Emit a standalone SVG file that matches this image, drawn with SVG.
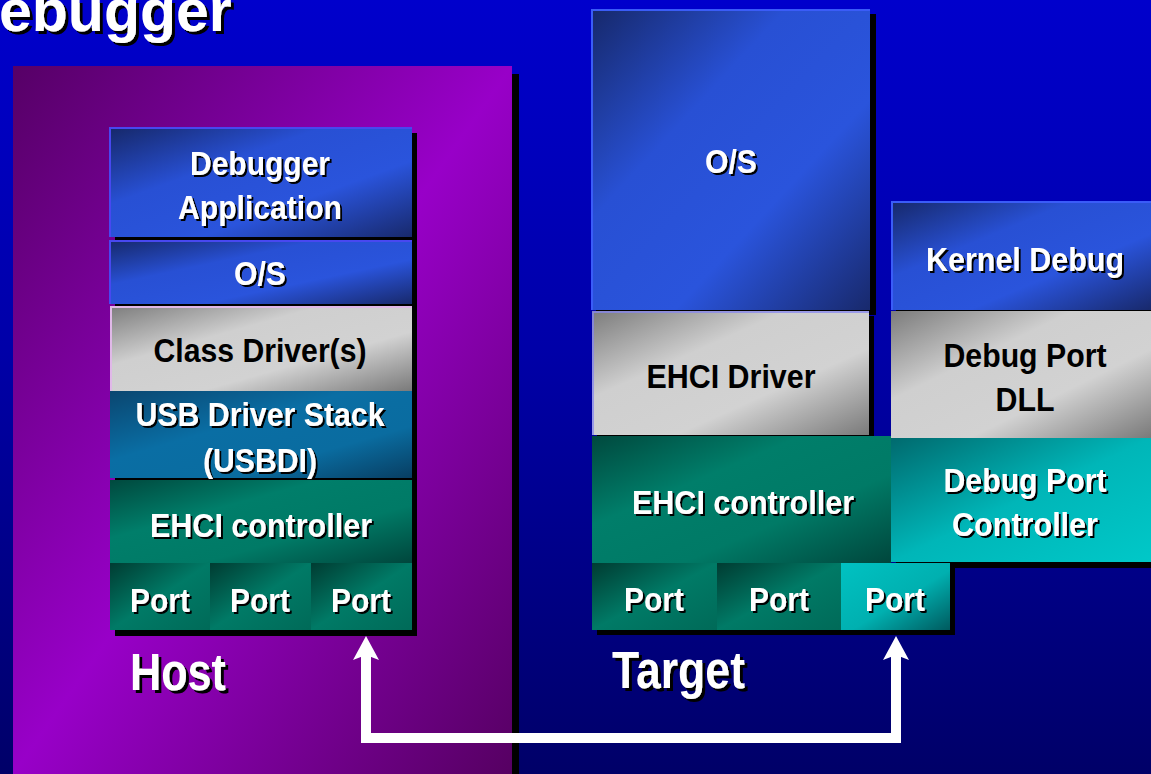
<svg xmlns="http://www.w3.org/2000/svg" width="1151" height="774" viewBox="0 0 1151 774">
<defs>
<linearGradient id="bg" x1="0" y1="0" x2="0" y2="1"><stop offset="0" stop-color="#0000cc"/><stop offset="0.45" stop-color="#0000a8"/><stop offset="1" stop-color="#000068"/></linearGradient>
<linearGradient id="purple" x1="0" y1="0" x2="1" y2="1"><stop offset="0" stop-color="#560066"/><stop offset="0.5" stop-color="#9800c8"/><stop offset="1" stop-color="#560062"/></linearGradient>
<linearGradient id="blue" x1="0" y1="0" x2="1" y2="1"><stop offset="0" stop-color="#16286a"/><stop offset="0.35" stop-color="#2850d4"/><stop offset="0.65" stop-color="#2a54dc"/><stop offset="1" stop-color="#18296c"/></linearGradient>
<linearGradient id="gray" x1="0" y1="0" x2="1" y2="1"><stop offset="0" stop-color="#7c7c7c"/><stop offset="0.35" stop-color="#cfcfcf"/><stop offset="0.65" stop-color="#d2d2d2"/><stop offset="1" stop-color="#7a7a7a"/></linearGradient>
<linearGradient id="usb" x1="0" y1="0" x2="1" y2="1"><stop offset="0" stop-color="#0a4670"/><stop offset="0.4" stop-color="#0a6ea4"/><stop offset="0.7" stop-color="#0a6ca0"/><stop offset="1" stop-color="#083e62"/></linearGradient>
<linearGradient id="green" x1="0" y1="0" x2="1" y2="1"><stop offset="0" stop-color="#00493e"/><stop offset="0.35" stop-color="#007e6a"/><stop offset="0.65" stop-color="#007a66"/><stop offset="1" stop-color="#00463c"/></linearGradient>
<linearGradient id="port" x1="0" y1="0" x2="1" y2="1"><stop offset="0" stop-color="#003c32"/><stop offset="0.5" stop-color="#007a66"/><stop offset="1" stop-color="#006a58"/></linearGradient>
<linearGradient id="cyan" x1="0" y1="0" x2="1" y2="1"><stop offset="0" stop-color="#006a6e"/><stop offset="0.5" stop-color="#00b6b8"/><stop offset="1" stop-color="#00c8c8"/></linearGradient>
<linearGradient id="cyanport" x1="0" y1="0" x2="1" y2="1"><stop offset="0" stop-color="#00c2c2"/><stop offset="0.55" stop-color="#00b0b0"/><stop offset="1" stop-color="#005a5e"/></linearGradient>
<filter id="ds" x="-10%" y="-20%" width="130%" height="150%"><feDropShadow dx="2" dy="2" stdDeviation="0.4" flood-color="#000" flood-opacity="1"/></filter>
<filter id="ds3" x="-10%" y="-20%" width="130%" height="150%"><feDropShadow dx="3" dy="3" stdDeviation="0.4" flood-color="#000" flood-opacity="1"/></filter>
<marker id="ah" viewBox="-24 -13 24 26" refX="-12" refY="0" markerWidth="24" markerHeight="26" markerUnits="userSpaceOnUse" orient="auto-start-reverse"><path d="M0,0 L-24,-13 L-19,0 L-24,13 Z" fill="#fff"/></marker>
<style>
text{font-family:"Liberation Sans",Arial,sans-serif;font-weight:bold;text-anchor:middle}
.w{fill:#fff;filter:url(#ds)}
.k{fill:#000}
.lbl{font-size:34px}
.big{font-size:51px;fill:#fff;filter:url(#ds3);text-anchor:start}
.sh{fill:#000}
</style>
</defs>
<rect x="0" y="0" width="1151" height="774" fill="url(#bg)"/>
<text x="-1" y="31" style="font-size:59px;text-anchor:start" fill="#fff" filter="url(#ds3)">ebugger</text>

<g id="host-panel">
<rect x="512" y="74" width="7" height="700" class="sh"/>
<rect x="13" y="66" width="499" height="708" fill="url(#purple)"/>
<text x="130" y="690" class="big" textLength="96" lengthAdjust="spacingAndGlyphs">Host</text>
</g>

<g id="host-shadow"><rect x="115" y="133" width="302" height="503" class="sh"/></g>

<g id="host-app"><rect x="110" y="128" width="302" height="109" fill="url(#blue)"/><path d="M110,237 V128 H412" fill="none" stroke="#4848f0" stroke-width="2"/><text class="w lbl" x="260" y="175" textLength="140" lengthAdjust="spacingAndGlyphs">Debugger</text><text class="w lbl" x="260" y="219" textLength="164" lengthAdjust="spacingAndGlyphs">Application</text></g>
<g id="host-os"><rect x="110" y="240" width="302" height="64" fill="url(#blue)"/><path d="M110,304 V241 H412" fill="none" stroke="#4848f0" stroke-width="2"/><text class="w lbl" x="260" y="285" textLength="52" lengthAdjust="spacingAndGlyphs">O/S</text></g>
<g id="host-class"><rect x="110" y="306" width="302" height="85" fill="url(#gray)"/><path d="M111,391 V307 H412" fill="none" stroke="#e0b8e8" stroke-width="2"/><text class="k lbl" x="260" y="362" textLength="213" lengthAdjust="spacingAndGlyphs">Class Driver(s)</text></g>
<g id="host-usb"><rect x="110" y="391" width="302" height="87" fill="url(#usb)"/><text class="w lbl" x="260" y="426" textLength="249" lengthAdjust="spacingAndGlyphs">USB Driver Stack</text><text class="w lbl" x="260" y="472" textLength="114" lengthAdjust="spacingAndGlyphs">(USBDI)</text></g>
<g id="host-ehci"><rect x="110" y="480" width="302" height="83" fill="url(#green)"/><text class="w lbl" x="261" y="537" textLength="222" lengthAdjust="spacingAndGlyphs">EHCI controller</text></g>
<g id="host-port1"><rect x="110" y="563" width="100" height="67" fill="url(#port)"/><text class="w lbl" x="160" y="612" textLength="60" lengthAdjust="spacingAndGlyphs">Port</text></g>
<g id="host-port2"><rect x="210" y="563" width="101" height="67" fill="url(#port)"/><text class="w lbl" x="260" y="612" textLength="60" lengthAdjust="spacingAndGlyphs">Port</text></g>
<g id="host-port3"><rect x="311" y="563" width="101" height="67" fill="url(#port)"/><text class="w lbl" x="361" y="612" textLength="60" lengthAdjust="spacingAndGlyphs">Port</text></g>

<g id="target-shadow">
<rect x="596" y="14" width="280" height="301" class="sh"/>
<rect x="597" y="316" width="277" height="124" class="sh"/>
<rect x="896" y="206" width="255" height="362" class="sh"/>
<rect x="597" y="568" width="358" height="67" class="sh"/>
</g>

<g id="target-os"><rect x="591" y="9" width="279" height="301" fill="url(#blue)"/><path d="M592,310 V10 H870" fill="none" stroke="#3a5cf8" stroke-width="2"/><text class="w lbl" x="731" y="173" textLength="52" lengthAdjust="spacingAndGlyphs">O/S</text></g>
<g id="target-ehcidriver"><rect x="592" y="311" width="277" height="124" fill="url(#gray)"/><path d="M593,435 V312 H869" fill="none" stroke="#8888f0" stroke-width="1.5"/><text class="k lbl" x="731" y="388" textLength="169" lengthAdjust="spacingAndGlyphs">EHCI Driver</text></g>
<g id="target-ehci"><rect x="592" y="436" width="299" height="127" fill="url(#green)"/><text class="w lbl" x="743" y="514" textLength="222" lengthAdjust="spacingAndGlyphs">EHCI controller</text></g>
<g id="target-port1"><rect x="592" y="563" width="125" height="67" fill="url(#port)"/><text class="w lbl" x="654" y="611" textLength="60" lengthAdjust="spacingAndGlyphs">Port</text></g>
<g id="target-port2"><rect x="717" y="563" width="124" height="67" fill="url(#port)"/><text class="w lbl" x="779" y="611" textLength="60" lengthAdjust="spacingAndGlyphs">Port</text></g>
<g id="target-port3"><rect x="841" y="563" width="109" height="67" fill="url(#cyanport)"/><text class="w lbl" x="895" y="611" textLength="60" lengthAdjust="spacingAndGlyphs">Port</text></g>
<g id="target-kernel"><rect x="891" y="201" width="260" height="109" fill="url(#blue)"/><path d="M892,310 V202 H1151" fill="none" stroke="#3a5cf8" stroke-width="2"/><text class="w lbl" x="1025" y="271" textLength="198" lengthAdjust="spacingAndGlyphs">Kernel Debug</text></g>
<g id="target-dll"><rect x="891" y="311" width="260" height="127" fill="url(#gray)"/><text class="k lbl" x="1025" y="367" textLength="163" lengthAdjust="spacingAndGlyphs">Debug Port</text><text class="k lbl" x="1025" y="411" textLength="59" lengthAdjust="spacingAndGlyphs">DLL</text></g>
<g id="target-dpc"><rect x="891" y="438" width="260" height="124" fill="url(#cyan)"/><text class="w lbl" x="1025" y="492" textLength="163" lengthAdjust="spacingAndGlyphs">Debug Port</text><text class="w lbl" x="1025" y="536" textLength="146" lengthAdjust="spacingAndGlyphs">Controller</text></g>
<g id="target-label"><text x="612" y="688" class="big" textLength="133" lengthAdjust="spacingAndGlyphs">Target</text></g>

<g id="connectors">
<path d="M366,648 V738 H896 V648" fill="none" stroke="#fff" stroke-width="10" stroke-linejoin="miter" marker-start="url(#ah)" marker-end="url(#ah)"/>
</g>
</svg>
